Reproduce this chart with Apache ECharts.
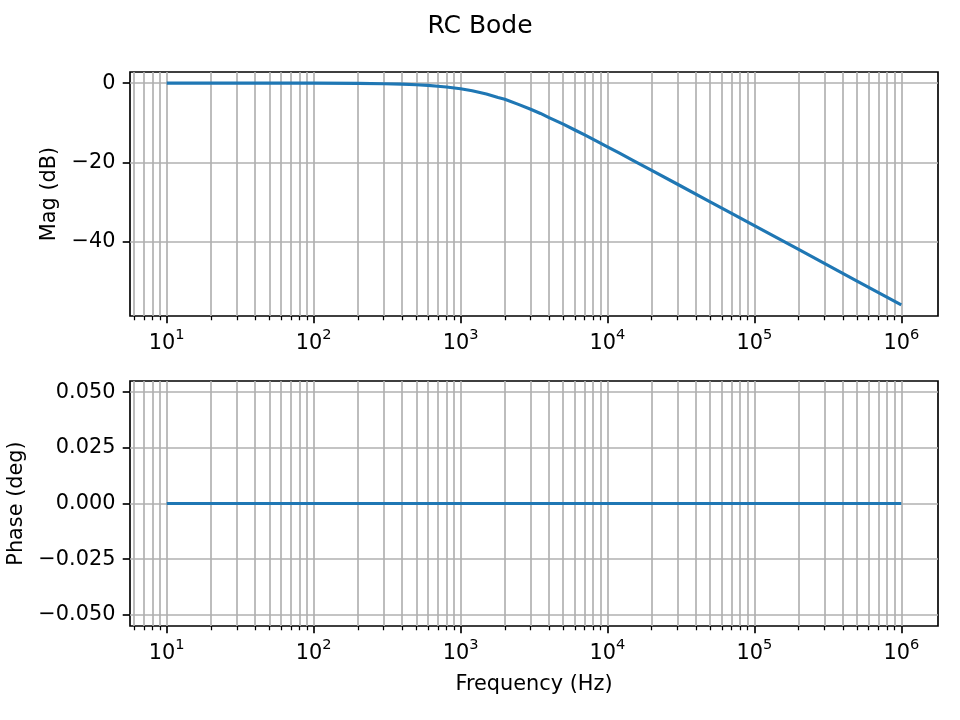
<!DOCTYPE html>
<html>
<head>
<meta charset="utf-8">
<title>RC Bode</title>
<script src="https://cdn.jsdelivr.net/npm/echarts@6/dist/echarts.min.js"></script>
<style>
  html, body { margin: 0; padding: 0; background: #fff; }
  #chart { width: 960px; height: 720px; }
</style>
</head>
<body>
<div id="chart"></div>
<script>
// RC low-pass Bode plot
var freq = [10, 20, 50, 100, 200, 300, 400, 500, 600, 700, 800, 1000, 1200, 1500, 1800, 2000, 2500, 3000, 3500, 4000, 5000, 6000, 7000, 8500,
  10000, 12000, 15000, 20000, 30000, 50000, 70000, 100000, 200000, 500000, 1000000];
var magDb = [0.00, 0.00, 0.00, -0.02, -0.07, -0.15, -0.26, -0.41, -0.58, -0.78, -0.99, -1.44, -1.94, -2.77, -3.65, -4.08, -5.44, -6.59,
  -7.66, -8.72, -10.37, -11.83, -13.09, -14.70,
  -16.07, -17.63, -19.54, -22.02, -25.52, -29.95, -32.87, -35.96, -41.98, -49.94, -55.96];
var phaseDeg = [0, 0, 0, 0, 0, 0, 0, 0, 0, 0, 0, 0, 0, 0, 0, 0, 0, 0, 0, 0, 0, 0, 0, 0,
  0, 0, 0, 0, 0, 0, 0, 0, 0, 0, 0];

var xMajorTicks = [10, 100, 1000, 10000, 100000, 1000000];
var xMinorTicks = [6, 7, 8, 9,
  20, 30, 40, 50, 60, 70, 80, 90,
  200, 300, 400, 500, 600, 700, 800, 900,
  2000, 3000, 4000, 5000, 6000, 7000, 8000, 9000,
  20000, 30000, 40000, 50000, 60000, 70000, 80000, 90000,
  200000, 300000, 400000, 500000, 600000, 700000, 800000, 900000];
var magTicks = [-40, -20, 0];
var phaseTicks = [-0.05, -0.025, 0, 0.025, 0.05];

var FONT = 'DejaVu Sans';
var px = 150 / 72;   // matplotlib points -> pixels at 150 dpi
var gridColor = '#b0b0b0';

function pairs(xs, ys) {
  return xs.map(function (x, i) { return [x, ys[i]]; });
}
function minusFmt(digits) {
  return function (v) { return (v < 0 ? '\u2212' : '') + Math.abs(v).toFixed(digits); };
}

function majorX(gridIndex, name) {
  return {
    type: 'log', logBase: 10, gridIndex: gridIndex, position: 'bottom',
    min: 5.623, max: 1778279,
    name: name || '', nameLocation: 'middle', nameGap: 48,
    nameTextStyle: { fontFamily: FONT, fontSize: 10 * px, color: '#000' },
    axisLine: { show: false, onZero: false },
    axisTick: { show: true, length: 3.5 * px, lineStyle: { color: '#000', width: 0.8 * px }, customValues: xMajorTicks },
    axisLabel: {
      customValues: xMajorTicks, margin: 12,
      formatter: function (v) { return '{b|10}{s|' + Math.round(Math.log10(v)) + '}'; },
      rich: {
        b: { fontFamily: FONT, fontSize: 10 * px, color: '#000', lineHeight: 26, verticalAlign: 'bottom' },
        s: { fontFamily: FONT, fontSize: 7 * px, color: '#000', lineHeight: 26, verticalAlign: 'top' }
      }
    },
    splitLine: { show: true, lineStyle: { color: gridColor, width: 0.8 * px } },
    minorTick: { show: false }, minorSplitLine: { show: false }
  };
}
function minorX(gridIndex) {
  return {
    type: 'log', logBase: 10, gridIndex: gridIndex, position: 'bottom', offset: 0,
    min: 5.623, max: 1778279,
    axisLine: { show: false, onZero: false },
    axisTick: { show: true, length: 2 * px, lineStyle: { color: '#000', width: 0.6 * px }, customValues: xMinorTicks },
    axisLabel: { show: false },
    splitLine: { show: true, lineStyle: { color: gridColor, width: 0.8 * px } }
  };
}
function valueY(gridIndex, min, max, ticks, digits, name, gap) {
  return {
    type: 'value', gridIndex: gridIndex, min: min, max: max,
    name: name, nameLocation: 'middle', nameGap: gap,
    nameTextStyle: { fontFamily: FONT, fontSize: 10 * px, color: '#000' },
    axisLine: { show: false, onZero: false },
    axisTick: { show: true, length: 3.5 * px, lineStyle: { color: '#000', width: 0.8 * px }, customValues: ticks },
    axisLabel: { customValues: ticks, margin: 7.3 * 2, fontFamily: FONT, fontSize: 10 * px, color: '#000', formatter: minusFmt(digits) },
    splitLine: { show: true, lineStyle: { color: gridColor, width: 0.8 * px } }
  };
}

var chart = echarts.init(document.getElementById('chart'), null, { renderer: 'canvas' });
chart.setOption({
  animation: false,
  backgroundColor: '#fff',
  title: {
    text: 'RC Bode', left: 'center', top: 9,
    textStyle: { fontFamily: FONT, fontSize: 12 * px, fontWeight: 'normal', color: '#000' }
  },
  grid: [
    { left: 130, top: 72, width: 808, height: 244, containLabel: false, outerBoundsMode: 'none',
      show: true, borderColor: '#000', borderWidth: 0.8 * px, backgroundColor: 'transparent' },
    { left: 130, top: 381, width: 808, height: 245, containLabel: false, outerBoundsMode: 'none',
      show: true, borderColor: '#000', borderWidth: 0.8 * px, backgroundColor: 'transparent' }
  ],
  xAxis: [majorX(0), minorX(0), majorX(1, 'Frequency (Hz)'), minorX(1)],
  yAxis: [
    valueY(0, -58.76, 2.80, magTicks, 0, 'Mag (dB)', 65),
    valueY(1, -0.055, 0.055, phaseTicks, 3, 'Phase (deg)', 102)
  ],
  series: [
    {
      name: 'Mag', type: 'line', xAxisIndex: 0, yAxisIndex: 0,
      data: pairs(freq, magDb), showSymbol: false,
      lineStyle: { color: '#1f77b4', width: 1.5 * px }
    },
    {
      name: 'Phase', type: 'line', xAxisIndex: 2, yAxisIndex: 1,
      data: pairs(freq, phaseDeg), showSymbol: false,
      lineStyle: { color: '#1f77b4', width: 1.5 * px }
    }
  ]
});
window.addEventListener('resize', function () { chart.resize(); });
</script>
</body>
</html>
